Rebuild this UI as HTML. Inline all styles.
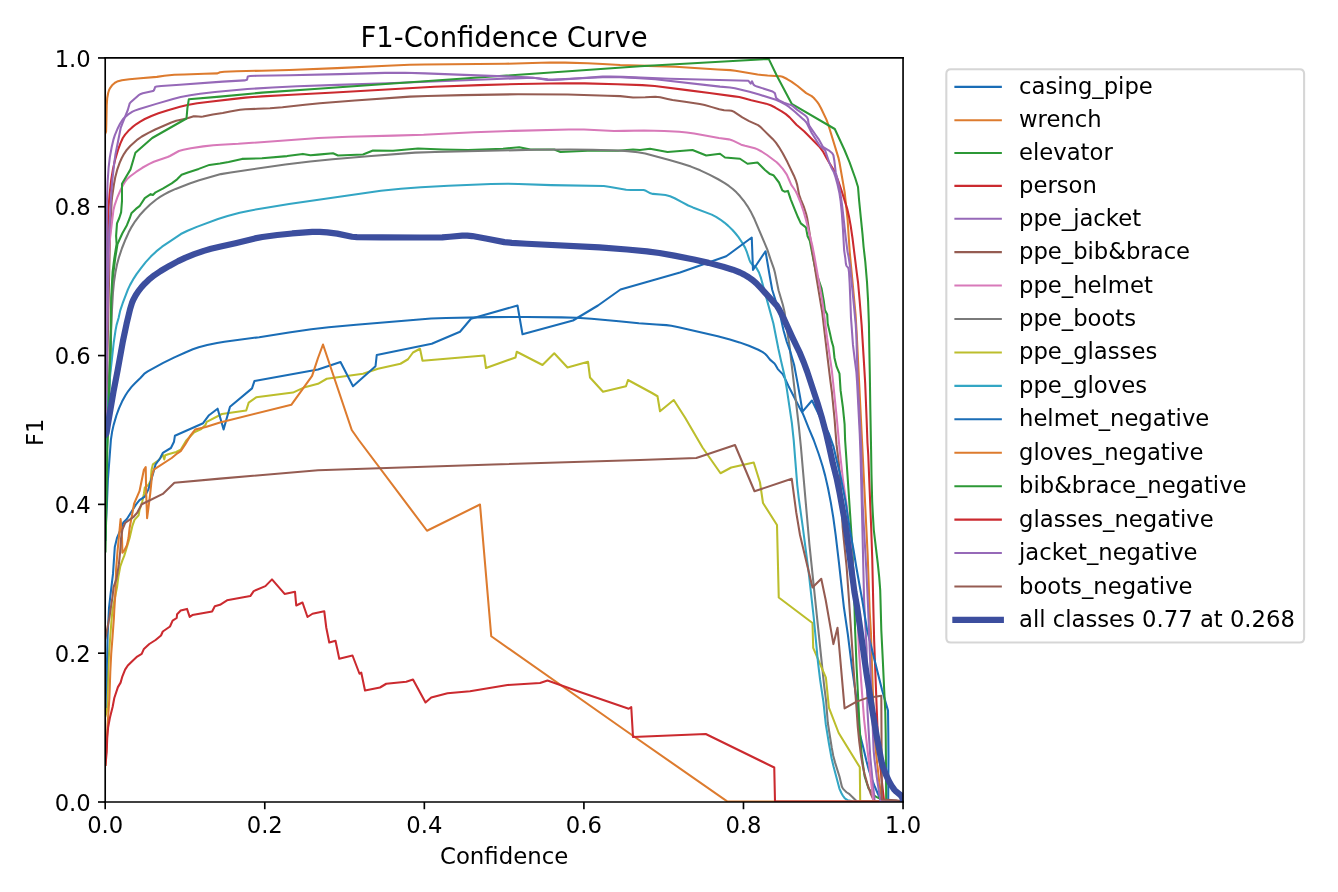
<!DOCTYPE html>
<html lang="en"><head><meta charset="utf-8"><title>F1-Confidence Curve</title>
<style>html,body{margin:0;padding:0;background:#fff;}svg{display:block;will-change:transform;}text{font-family:"DejaVu Sans","Liberation Sans",sans-serif;}</style></head>
<body>
<svg width="1338" height="892" viewBox="0 0 648 432">
 
 <defs>
  <style type="text/css">*{stroke-linejoin: round; stroke-linecap: butt}</style>
 </defs>
 <g id="figure_1">
  <g id="patch_1">
   <path d="M 0 432 
L 648 432 
L 648 0 
L 0 0 
z
" style="fill: #ffffff"/>
  </g>
  <g id="axes_1">
   <g id="patch_2">
    <path d="M 50.948879 388.412556 
L 437.35157 388.412556 
L 437.35157 28.060628 
L 50.948879 28.060628 
z
" style="fill: #ffffff"/>
   </g>
   <g id="matplotlib.axis_1">
    <g id="xtick_1">
     <g id="line2d_1">
      
      <g>
       <path d="M 50.9489 388.4126 L 50.9489 391.9126" style="stroke: #000000; stroke-width: 0.8; fill: none"/>
      </g>
     </g>
     <g id="text_1">
      <text style="font-size: 11px; font-family: 'DejaVu Sans', 'Liberation Sans', sans-serif; text-anchor: middle" x="50.948879" y="403.470837" transform="rotate(-0 50.948879 403.470837)">0.0</text>
     </g>
    </g>
    <g id="xtick_2">
     <g id="line2d_2">
      <g>
       <path d="M 128.2294 388.4126 L 128.2294 391.9126" style="stroke: #000000; stroke-width: 0.8; fill: none"/>
      </g>
     </g>
     <g id="text_2">
      <text style="font-size: 11px; font-family: 'DejaVu Sans', 'Liberation Sans', sans-serif; text-anchor: middle" x="128.229417" y="403.470837" transform="rotate(-0 128.229417 403.470837)">0.2</text>
     </g>
    </g>
    <g id="xtick_3">
     <g id="line2d_3">
      <g>
       <path d="M 205.5100 388.4126 L 205.5100 391.9126" style="stroke: #000000; stroke-width: 0.8; fill: none"/>
      </g>
     </g>
     <g id="text_3">
      <text style="font-size: 11px; font-family: 'DejaVu Sans', 'Liberation Sans', sans-serif; text-anchor: middle" x="205.509955" y="403.470837" transform="rotate(-0 205.509955 403.470837)">0.4</text>
     </g>
    </g>
    <g id="xtick_4">
     <g id="line2d_4">
      <g>
       <path d="M 282.7905 388.4126 L 282.7905 391.9126" style="stroke: #000000; stroke-width: 0.8; fill: none"/>
      </g>
     </g>
     <g id="text_4">
      <text style="font-size: 11px; font-family: 'DejaVu Sans', 'Liberation Sans', sans-serif; text-anchor: middle" x="282.790493" y="403.470837" transform="rotate(-0 282.790493 403.470837)">0.6</text>
     </g>
    </g>
    <g id="xtick_5">
     <g id="line2d_5">
      <g>
       <path d="M 360.0710 388.4126 L 360.0710 391.9126" style="stroke: #000000; stroke-width: 0.8; fill: none"/>
      </g>
     </g>
     <g id="text_5">
      <text style="font-size: 11px; font-family: 'DejaVu Sans', 'Liberation Sans', sans-serif; text-anchor: middle" x="360.071031" y="403.470837" transform="rotate(-0 360.071031 403.470837)">0.8</text>
     </g>
    </g>
    <g id="xtick_6">
     <g id="line2d_6">
      <g>
       <path d="M 437.3516 388.4126 L 437.3516 391.9126" style="stroke: #000000; stroke-width: 0.8; fill: none"/>
      </g>
     </g>
     <g id="text_6">
      <text style="font-size: 11px; font-family: 'DejaVu Sans', 'Liberation Sans', sans-serif; text-anchor: middle" x="437.35157" y="403.470837" transform="rotate(-0 437.35157 403.470837)">1.0</text>
     </g>
    </g>
    <g id="text_7">
     <text style="font-size: 11.06px; font-family: 'DejaVu Sans', 'Liberation Sans', sans-serif; text-anchor: middle" x="244.150224" y="418.662365" transform="rotate(-0 244.150224 418.662365)">Confidence</text>
    </g>
   </g>
   <g id="matplotlib.axis_2">
    <g id="ytick_1">
     <g id="line2d_7">
      
      <g>
       <path d="M 50.9489 388.4126 L 47.4489 388.4126" style="stroke: #000000; stroke-width: 0.8; fill: none"/>
      </g>
     </g>
     <g id="text_8">
      <text style="font-size: 11px; font-family: 'DejaVu Sans', 'Liberation Sans', sans-serif; text-anchor: end" x="43.948879" y="392.591697" transform="rotate(-0 43.948879 392.591697)">0.0</text>
     </g>
    </g>
    <g id="ytick_2">
     <g id="line2d_8">
      <g>
       <path d="M 50.9489 316.3422 L 47.4489 316.3422" style="stroke: #000000; stroke-width: 0.8; fill: none"/>
      </g>
     </g>
     <g id="text_9">
      <text style="font-size: 11px; font-family: 'DejaVu Sans', 'Liberation Sans', sans-serif; text-anchor: end" x="43.948879" y="320.521311" transform="rotate(-0 43.948879 320.521311)">0.2</text>
     </g>
    </g>
    <g id="ytick_3">
     <g id="line2d_9">
      <g>
       <path d="M 50.9489 244.2718 L 47.4489 244.2718" style="stroke: #000000; stroke-width: 0.8; fill: none"/>
      </g>
     </g>
     <g id="text_10">
      <text style="font-size: 11px; font-family: 'DejaVu Sans', 'Liberation Sans', sans-serif; text-anchor: end" x="43.948879" y="248.450925" transform="rotate(-0 43.948879 248.450925)">0.4</text>
     </g>
    </g>
    <g id="ytick_4">
     <g id="line2d_10">
      <g>
       <path d="M 50.9489 172.2014 L 47.4489 172.2014" style="stroke: #000000; stroke-width: 0.8; fill: none"/>
      </g>
     </g>
     <g id="text_11">
      <text style="font-size: 11px; font-family: 'DejaVu Sans', 'Liberation Sans', sans-serif; text-anchor: end" x="43.948879" y="176.38054" transform="rotate(-0 43.948879 176.38054)">0.6</text>
     </g>
    </g>
    <g id="ytick_5">
     <g id="line2d_11">
      <g>
       <path d="M 50.9489 100.1310 L 47.4489 100.1310" style="stroke: #000000; stroke-width: 0.8; fill: none"/>
      </g>
     </g>
     <g id="text_12">
      <text style="font-size: 11px; font-family: 'DejaVu Sans', 'Liberation Sans', sans-serif; text-anchor: end" x="43.948879" y="104.310154" transform="rotate(-0 43.948879 104.310154)">0.8</text>
     </g>
    </g>
    <g id="ytick_6">
     <g id="line2d_12">
      <g>
       <path d="M 50.9489 28.0606 L 47.4489 28.0606" style="stroke: #000000; stroke-width: 0.8; fill: none"/>
      </g>
     </g>
     <g id="text_13">
      <text style="font-size: 11px; font-family: 'DejaVu Sans', 'Liberation Sans', sans-serif; text-anchor: end" x="43.948879" y="32.239768" transform="rotate(-0 43.948879 32.239768)">1.0</text>
     </g>
    </g>
    <g id="text_14">
     <text style="font-size: 11px; font-family: 'DejaVu Sans', 'Liberation Sans', sans-serif; text-anchor: middle" x="21.067785" y="209.389718" transform="rotate(-90 21.067785 209.389718)">F1</text>
    </g>
   </g>
   <g id="line2d_13">
    <path d="M 51.09417 261.524664 
L 51.325053 253.03019 
L 51.80944 243.333222 
L 52.004446 238.482652 
L 52.249068 232.42003 
L 53.702406 213.053114 
L 54.290583 209.12287 
L 55.003405 205.892887 
L 56.366808 201.231982 
L 57.625446 197.808146 
L 59.103734 194.480481 
L 60.854794 191.292048 
L 62.207913 189.266308 
L 63.698902 187.353177 
L 65.366227 185.60332 
L 67.99697 183.066686 
L 70.127354 180.791031 
L 71.541465 179.827326 
L 79.035533 175.753689 
L 84.474561 173.061548 
L 90.02145 170.584044 
L 93.393029 169.175959 
L 96.23139 168.199103 
L 100.344607 167.089022 
L 105.107941 166.073114 
L 108.696441 165.510575 
L 125.54618 163.286958 
L 139.934953 161.014502 
L 150.753388 159.487692 
L 159.191641 158.532488 
L 172.487294 157.287164 
L 208.783578 154.223892 
L 216.053611 153.975076 
L 237.897092 153.598212 
L 254.893386 153.532453 
L 271.88741 153.71182 
L 279.16165 153.909055 
L 286.430107 154.406934 
L 299.72892 155.616234 
L 309.395116 156.543749 
L 317.87205 157.153009 
L 322.710221 157.461247 
L 325.103538 157.801369 
L 328.67424 158.539054 
L 338.167938 160.676406 
L 347.645363 162.830846 
L 353.499508 164.389074 
L 358.150934 165.825172 
L 362.712104 167.482663 
L 367.260563 169.39745 
L 369.395777 170.55311 
L 370.493274 171.32287 
L 371.198041 172.019821 
L 372.914798 174.156054 
L 375.09417 176.044843 
L 375.370482 176.427091 
L 376.692377 178.756951 
L 379.047778 181.194706 
L 380.159733 183.339297 
L 381.730747 186.654319 
L 387.239477 197.469934 
L 388.654709 199.969507 
L 389.437725 201.780822 
L 391.697016 207.422753 
L 394.078924 213.09417 
L 396.511673 219.87644 
L 398.360571 225.669515 
L 399.625736 230.344755 
L 400.977397 236.252021 
L 402.373075 243.413443 
L 403.554863 250.598181 
L 404.709248 259.016704 
L 406.272205 272.278377 
L 408.690451 293.990325 
L 410.612127 307.202696 
L 412.550766 322.861565 
L 415.14723 340.884681 
L 415.652173 345.711597 
L 416.373402 355.387938 
L 417.904204 361.265817 
L 419.571519 368.356839 
L 420.818916 373.051503 
L 421.938615 376.510089 
L 423.68973 381.041659 
L 426.666946 387.819573 
L 427.156951 388.218834 
L 437.35157 388.218834 
L 437.35157 388.218834 
" clip-path="url(#p59e34a2f71)" style="fill: none; stroke: #1a6db6; stroke-linecap: square"/>
   </g>
   <g id="line2d_14">
    <path d="M 51.09417 64.412556 
L 51.384753 63.686099 
L 51.499581 59.673673 
L 51.690357 51.105764 
L 51.934546 47.47886 
L 52.383726 45.0665 
L 52.789238 43.732735 
L 53.215567 42.810171 
L 54.096861 41.553363 
L 54.711101 40.880754 
L 55.670377 40.059797 
L 56.705082 39.52679 
L 59.026463 38.900062 
L 62.676278 38.348834 
L 67.996413 37.872646 
L 75.988415 37.228334 
L 79.590014 36.671575 
L 84.427994 36.198908 
L 89.280858 36.040268 
L 98.992916 35.744615 
L 105.336323 35.547982 
L 106.547085 35.015247 
L 108.57453 34.786945 
L 114.640352 34.499155 
L 126.787314 34.238331 
L 140.142534 33.938412 
L 163.198395 32.984976 
L 187.463125 31.83669 
L 198.381839 31.319594 
L 205.664688 31.212777 
L 244.527178 30.875115 
L 257.882402 30.52498 
L 266.379912 30.276713 
L 273.665191 30.329836 
L 284.592685 30.658478 
L 291.869216 31.014426 
L 300.355508 31.521236 
L 313.709165 31.916832 
L 327.058129 32.325577 
L 347.674901 33.618514 
L 353.72706 33.964953 
L 356.12788 34.274136 
L 366.918804 36.079143 
L 371.749626 36.602277 
L 375.41528 36.794683 
L 377.95157 36.952466 
L 378.969146 37.187415 
L 381.193914 38.28022 
L 383.285833 39.498574 
L 386.25136 41.639971 
L 390.446637 45.088789 
L 393.118247 46.561255 
L 394.041854 47.361228 
L 395.680669 49.196155 
L 396.367845 50.165544 
L 397.566983 52.284602 
L 400.193793 57.787799 
L 401.046164 60.053482 
L 406.037875 76.31369 
L 406.564966 78.679136 
L 409.072782 93.032723 
L 410.488488 106.318481 
L 411.044702 114.802132 
L 411.525093 122.071672 
L 414.354979 152.302431 
L 414.929044 161.999092 
L 420.217906 268.742394 
L 421.213073 296.655302 
L 421.786311 306.354073 
L 422.295532 322.134302 
L 423.029112 343.985027 
L 423.692995 357.328629 
L 424.14168 363.379622 
L 425.835147 379.077116 
L 427.292471 388.218834 
L 437.35157 388.218834 
L 437.35157 388.218834 
" clip-path="url(#p59e34a2f71)" style="fill: none; stroke: #dd7b2e; stroke-linecap: square"/>
   </g>
   <g id="line2d_15">
    <path d="M 51.09417 227.623318 
L 52.304933 209.704036 
L 53.176682 183.067265 
L 53.612556 170.475336 
L 53.854709 157.399103 
L 54.096861 144.32287 
L 54.726457 133.668161 
L 55.791928 125.144395 
L 56.90583 118.170404 
L 59.278924 112.93991 
L 61.458296 109.065471 
L 62.86278 105.578475 
L 63.637668 103.302242 
L 65.81704 101.1713 
L 67.560538 99.863677 
L 70.127354 95.940807 
L 72.984753 94.003587 
L 74.050224 94.439462 
L 75.357848 93.131839 
L 78.844843 91.388341 
L 83.155157 88.773094 
L 85.770404 86.835874 
L 87.949776 84.656502 
L 91.000897 83.542601 
L 96.23139 81.799103 
L 101.413453 79.861883 
L 106.547085 79.232287 
L 110.712108 78.408969 
L 117.201794 76.956054 
L 126.887892 76.61704 
L 139.043946 75.6 
L 146.695964 74.534529 
L 150.376682 75.164126 
L 154.008969 74.873543 
L 161.273543 74.219731 
L 163.695067 75.309417 
L 175.802691 74.825112 
L 180.64574 72.887892 
L 190.331839 73.008969 
L 202.439462 71.919283 
L 214.547085 72.403587 
L 226.654709 72.64574 
L 243.605381 72.040359 
L 251.475336 71.313901 
L 256.923767 72.403587 
L 268.426009 72.403587 
L 271.452915 73.61435 
L 287.192825 72.887892 
L 299.300448 73.008969 
L 306.565022 72.403587 
L 309.955157 72.64574 
L 314.798206 72.040359 
L 323.273543 73.61435 
L 335.381166 72.64574 
L 342.040359 75.309417 
L 348.699552 74.461883 
L 351.121076 76.278027 
L 358.38565 76.883408 
L 362.017937 79.304933 
L 366.860987 78.699552 
L 370.493274 82.331839 
L 372.914798 84.317489 
L 374.561435 84.850224 
L 377.273543 88.38565 
L 378.871749 92.211659 
L 379.98565 92.841256 
L 381.583857 92.453812 
L 382.93991 96.521973 
L 384.87713 101.413453 
L 386.475336 105.239462 
L 387.83139 108.193722 
L 390.301345 110.130942 
L 391.124664 114.441256 
L 392.190135 116.620628 
L 392.7713 119.623318 
L 393.836771 125.192825 
L 395.192825 131.730942 
L 397.904933 139.818834 
L 398.970404 145.824215 
L 399.503139 150.134529 
L 400.61704 152.313901 
L 400.859193 156.672646 
L 401.973094 161.564126 
L 402.796413 165.341704 
L 403.5713 167.90852 
L 404.152466 173.332735 
L 405.217937 177.69148 
L 406.573991 180.936323 
L 407.106726 189.072646 
L 408.220628 197.257399 
L 409.043946 205.393722 
L 409.286099 213.09417 
L 410.44843 230.044843 
L 411.659193 248.206278 
L 412.869955 266.367713 
L 413.741704 290.58296 
L 414.129148 305.063677 
L 414.855605 323.176682 
L 415.582063 337.657399 
L 416.30852 352.573991 
L 417.373991 366.134529 
L 418.730045 375.917489 
L 420.667265 381.92287 
L 423.912108 385.700448 
L 426.09148 386.81435 
L 428.125561 388.218834 
L 437.35157 388.218834 
" clip-path="url(#p59e34a2f71)" style="fill: none; stroke: #2c9836; stroke-linecap: square"/>
   </g>
   <g id="line2d_16">
    <path d="M 51.09417 203.408072 
L 52.270253 108.804099 
L 52.523665 101.531541 
L 53.039587 94.272731 
L 53.870524 87.040565 
L 54.646388 82.253354 
L 55.719651 77.521562 
L 57.080955 72.863423 
L 58.308922 69.43452 
L 59.472646 66.834081 
L 60.58681 65.16841 
L 62.179221 63.350568 
L 63.97148 61.692672 
L 65.885365 60.19803 
L 67.910531 58.865597 
L 70.127354 57.632287 
L 73.339305 56.152855 
L 76.737673 54.86495 
L 81.358545 53.362908 
L 87.200213 51.723782 
L 90.742913 50.88352 
L 95.514032 50.038121 
L 101.529234 49.235818 
L 112.377269 47.994971 
L 118.8 47.268161 
L 126.866168 46.676531 
L 141.401629 45.877608 
L 161.994962 44.827327 
L 210.430758 42.018234 
L 232.249809 41.216096 
L 251.649247 40.665911 
L 273.480146 40.320975 
L 283.182838 40.393818 
L 298.947344 40.792716 
L 311.076607 41.240371 
L 317.115957 41.659951 
L 332.762215 43.647874 
L 343.591247 45.020116 
L 355.611126 46.678213 
L 358.01061 46.996601 
L 360.353396 47.602259 
L 363.864264 48.594302 
L 370.982122 50.198083 
L 373.237363 50.992439 
L 375.422195 52.079432 
L 378.574939 53.921449 
L 380.600534 55.287752 
L 382.424256 56.846415 
L 385.730299 60.40633 
L 389.423551 63.554616 
L 397.083477 71.334759 
L 398.514784 73.282418 
L 400.268059 76.475742 
L 401.468017 78.589537 
L 403.861883 82.4287 
L 404.499649 83.819551 
L 406.041256 87.852915 
L 407.401966 91.809751 
L 410.312931 101.068962 
L 411.122472 104.613715 
L 412.00079 109.387023 
L 412.874218 115.38947 
L 414.959704 132.242526 
L 415.584488 137.051987 
L 416.356951 145.824215 
L 417.306599 157.599753 
L 418.281363 173.338177 
L 419.004354 185.445738 
L 419.682772 202.413761 
L 420.127327 214.534079 
L 420.512458 220.585916 
L 421.042126 233.918015 
L 421.922041 255.734758 
L 422.42554 270.280715 
L 422.972773 294.534045 
L 423.363352 310.296678 
L 424.545275 341.811825 
L 425.212362 358.778165 
L 426.016315 368.44821 
L 427.578944 382.919904 
L 428.003883 386.570662 
L 428.125561 388.218834 
L 437.35157 388.218834 
L 437.35157 388.218834 
" clip-path="url(#p59e34a2f71)" style="fill: none; stroke: #cb2a2f; stroke-linecap: square"/>
   </g>
   <g id="line2d_17">
    <path d="M 51.09417 213.09417 
L 51.481997 183.984413 
L 51.675336 143.955427 
L 51.782738 97.861142 
L 52.114191 88.162496 
L 52.626907 80.901882 
L 53.203582 76.086616 
L 54.096861 71.192825 
L 54.896088 67.760748 
L 55.625778 65.455813 
L 57.049249 62.098422 
L 58.129508 59.904412 
L 59.425342 57.87856 
L 60.237532 56.97357 
L 62.091145 55.404991 
L 64.159068 54.092165 
L 65.241335 53.582427 
L 67.516285 52.787005 
L 75.665213 50.307071 
L 83.814211 47.899079 
L 87.513901 46.977578 
L 92.103534 46.102586 
L 96.904347 45.388141 
L 104.140094 44.600073 
L 119.842276 43.144991 
L 131.946724 42.343891 
L 144.062824 41.775997 
L 163.460229 41.116741 
L 187.707484 40.331036 
L 258.004893 37.625517 
L 260.42011 37.86358 
L 265.248627 38.453573 
L 267.66746 38.496172 
L 273.725656 38.286035 
L 294.457399 37.29148 
L 300.392901 37.390688 
L 307.669803 37.726366 
L 317.34685 38.402908 
L 348.687377 41.963436 
L 353.542601 42.376682 
L 355.905067 42.786311 
L 362.99205 44.474491 
L 367.660316 45.79395 
L 375.768452 48.297941 
L 377.98856 49.296781 
L 380.712108 50.803587 
L 382.146608 51.782491 
L 384.956172 54.101628 
L 388.56931 57.387213 
L 389.499772 58.190064 
L 390.446637 59.230493 
L 390.952238 60.033497 
L 393.129762 64.406318 
L 396.984753 70.611659 
L 399.503139 72.64574 
L 399.665634 72.945036 
L 400.422166 75.280277 
L 401.616209 78.736487 
L 402.558772 80.964917 
L 403.861883 83.49417 
L 404.526154 85.380668 
L 405.50852 88.918386 
L 406.562058 93.637051 
L 407.100817 97.230123 
L 407.702973 103.268677 
L 408.220628 110.663677 
L 408.836988 121.419269 
L 409.392939 125.034225 
L 409.639284 127.489464 
L 409.881468 128.606682 
L 410.700251 129.581569 
L 410.932735 130.035874 
L 411.174748 131.807226 
L 411.475636 136.751338 
L 411.822985 145.235375 
L 412.129267 153.719635 
L 413.099194 167.027536 
L 413.974931 174.25462 
L 414.749134 180.270442 
L 415.088245 185.106628 
L 416.39043 210.550148 
L 416.789667 221.458721 
L 417.351506 243.286753 
L 418.487892 290.58296 
L 418.972197 300.365919 
L 419.682153 313.592427 
L 419.892743 329.362334 
L 420.106504 343.913496 
L 420.960923 358.446619 
L 421.509511 366.918921 
L 422.684339 378.99319 
L 423.635888 388.218834 
L 437.35157 388.218834 
L 437.35157 388.218834 
" clip-path="url(#p59e34a2f71)" style="fill: none; stroke: #9669b8; stroke-linecap: square"/>
   </g>
   <g id="line2d_18">
    <path d="M 51.09417 213.09417 
L 51.781465 183.975069 
L 53.247976 114.814163 
L 54.053262 97.840539 
L 54.278952 95.427601 
L 55.167822 89.42033 
L 55.818731 85.838927 
L 56.740014 82.312478 
L 57.933631 78.870577 
L 58.918462 76.656388 
L 60.087167 74.512962 
L 61.458296 72.500448 
L 63.07791 70.729541 
L 66.711778 67.472702 
L 68.692558 66.09658 
L 71.892799 64.334646 
L 75.163271 62.741358 
L 82.966211 59.335912 
L 85.334529 58.504036 
L 88.785553 57.698933 
L 91.149232 57.117607 
L 93.480604 56.373065 
L 94.672004 56.341616 
L 97.490583 56.518386 
L 98.303482 56.465311 
L 100.67622 55.924133 
L 103.058333 55.406926 
L 107.866826 54.77038 
L 111.430867 54.015701 
L 116.226503 53.197514 
L 118.8 52.934529 
L 124.695071 52.710216 
L 130.759411 52.464392 
L 136.80176 51.957706 
L 147.662507 50.728126 
L 154.909581 49.99863 
L 171.847085 48.649346 
L 198.485055 46.788212 
L 206.970741 46.463477 
L 223.958668 46.060101 
L 250.869955 45.64574 
L 274.925902 45.73519 
L 294.338525 46.373911 
L 300.397378 46.565836 
L 306.565022 47.219731 
L 312.503641 47.117342 
L 317.345961 46.857217 
L 319.740104 47.10129 
L 323.311774 47.920077 
L 325.697635 48.430924 
L 331.704768 49.315945 
L 338.909093 50.375307 
L 341.28809 50.837975 
L 344.817862 51.88095 
L 348.338186 52.947861 
L 350.70324 53.410249 
L 353.113463 53.515695 
L 354.262811 53.612836 
L 355.34234 54.07986 
L 359.523528 56.844902 
L 362.792825 58.649327 
L 367.131446 60.604323 
L 368.081343 61.308326 
L 369.838799 63.016732 
L 372.468105 65.572757 
L 374.205784 67.277121 
L 375.775178 69.104633 
L 377.179513 71.092247 
L 379.073204 74.203278 
L 381.337435 78.500064 
L 384.501657 85.08996 
L 385.438074 87.331701 
L 386.114094 89.633276 
L 387.02592 94.409138 
L 387.861944 96.675298 
L 389.26797 100.048569 
L 390.398068 103.518403 
L 390.963642 105.869625 
L 391.729752 110.666347 
L 394.318338 127.457933 
L 395.247718 133.453429 
L 398.220944 151.410253 
L 400.771424 173.107239 
L 402.09626 183.949066 
L 402.897154 189.963386 
L 404.209195 203.24965 
L 404.661769 209.300779 
L 405.140838 215.348354 
L 406.178939 223.78589 
L 406.799855 229.818921 
L 407.215316 237.084667 
L 408.09972 255.270676 
L 408.672441 261.309978 
L 410.021608 274.594006 
L 411.174888 290.58296 
L 412.456277 309.70552 
L 413.411866 324.237189 
L 414.763493 342.39176 
L 415.42405 352.077474 
L 416.147268 359.324984 
L 417.08834 366.551074 
L 417.955157 371.607175 
L 418.694441 374.884893 
L 420.086099 379.743498 
L 421.599341 384.182471 
L 422.798206 386.81435 
L 423.166304 387.569046 
L 423.766816 388.218834 
L 437.35157 388.218834 
L 437.35157 388.218834 
" clip-path="url(#p59e34a2f71)" style="fill: none; stroke: #955c52; stroke-linecap: square"/>
   </g>
   <g id="line2d_19">
    <path d="M 51.09417 198.565022 
L 51.728909 162.135656 
L 52.610665 125.711975 
L 52.99506 118.43544 
L 53.493508 113.603233 
L 54.970411 101.549445 
L 55.582108 99.200849 
L 56.769935 95.753517 
L 58.193473 92.397385 
L 59.714798 89.402691 
L 60.502317 88.109847 
L 61.458296 86.835874 
L 62.925679 85.461623 
L 65.899655 83.289489 
L 68.926516 81.25325 
L 72.103622 79.473388 
L 74.486099 78.360538 
L 76.574077 77.587506 
L 81.190378 76.039346 
L 82.29441 75.556307 
L 86.642152 73.130045 
L 88.824172 72.520525 
L 92.41484 71.781841 
L 98.45215 70.885165 
L 103.283459 70.318095 
L 106.916715 70.061921 
L 115.406361 69.651932 
L 154.169337 66.826672 
L 168.732014 66.272754 
L 190.58685 65.69088 
L 205.153655 65.278738 
L 217.282495 64.645006 
L 229.413422 64.058051 
L 248.833876 63.378343 
L 275.547329 62.739865 
L 282.831012 62.761522 
L 290.112401 63.108714 
L 297.394035 63.424232 
L 302.249921 63.398541 
L 311.964093 63.215074 
L 321.681913 63.457144 
L 328.962014 63.822083 
L 332.57695 64.124624 
L 336.172013 64.674199 
L 348.156014 66.83836 
L 352.975178 67.490449 
L 354.123521 67.770204 
L 355.23422 68.227318 
L 358.966816 70.078924 
L 360.832239 70.615804 
L 365.558648 71.800767 
L 366.679682 72.231239 
L 368.833911 73.371455 
L 371.461883 75.067265 
L 376.159641 78.602691 
L 377.51697 79.951533 
L 379.131734 81.814157 
L 380.55701 83.799593 
L 381.171086 84.821725 
L 382.151197 87.039557 
L 383.230493 89.499552 
L 384.462567 91.30639 
L 385.409865 92.744395 
L 386.248262 94.453757 
L 387.620452 97.847736 
L 389.185746 102.445867 
L 390.518087 107.120111 
L 393.392752 118.921929 
L 394.338252 123.68538 
L 398.14757 145.213208 
L 398.999617 151.224307 
L 400.497283 163.276715 
L 402.79511 178.896987 
L 403.574388 186.141438 
L 405.199533 201.846449 
L 405.752545 207.89292 
L 406.614981 217.570477 
L 408.269058 232.466368 
L 410.12283 245.270783 
L 411.495546 258.565217 
L 415.161534 294.818944 
L 415.406313 299.666895 
L 415.938587 314.229541 
L 417.518468 336.035092 
L 418.487892 348.50583 
L 421.295001 373.487538 
L 422.117434 380.729277 
L 422.798206 386.81435 
L 423.040359 388.218834 
L 437.35157 388.218834 
L 437.35157 388.218834 
" clip-path="url(#p59e34a2f71)" style="fill: none; stroke: #d879b9; stroke-linecap: square"/>
   </g>
   <g id="line2d_20">
    <path d="M 51.09417 232.466368 
L 51.863259 207.001634 
L 53.032875 176.695043 
L 54.016686 153.665237 
L 54.719548 141.554065 
L 55.18211 136.724793 
L 55.908268 131.925512 
L 56.663677 128.147085 
L 57.541346 124.835357 
L 59.063352 120.2286 
L 60.883 115.727174 
L 62.382487 112.401698 
L 63.506179 110.262137 
L 65.44818 107.174297 
L 67.630468 104.267017 
L 70.075045 101.56741 
L 72.71739 99.064681 
L 75.538934 96.753055 
L 77.521042 95.366526 
L 79.597515 94.096174 
L 81.739536 92.970258 
L 85.070622 91.499952 
L 91.858521 88.85481 
L 96.465737 87.341787 
L 106.959458 84.32569 
L 111.742411 83.506546 
L 138.15025 79.637524 
L 150.196099 78.182533 
L 161.059067 77.105751 
L 178.224215 75.672646 
L 200.969868 73.917641 
L 210.665652 73.606017 
L 259.183263 72.528501 
L 276.167036 72.404741 
L 287.091286 72.534634 
L 299.300448 72.887892 
L 304.065904 73.185758 
L 308.900072 73.727977 
L 312.464559 74.322386 
L 318.319125 75.947726 
L 324.194018 77.461452 
L 330.036736 79.14028 
L 334.622957 80.680716 
L 339.129753 82.490852 
L 343.544899 84.549403 
L 347.826075 86.811308 
L 350.989912 88.688617 
L 353.00702 90.054676 
L 354.888844 91.527159 
L 356.654057 93.162996 
L 358.326674 94.956633 
L 360.617018 97.812332 
L 361.984632 99.79765 
L 363.830878 102.956953 
L 365.424627 106.214548 
L 371.584653 120.747495 
L 372.340456 123.049772 
L 373.487976 126.508117 
L 374.740636 129.932009 
L 375.355342 132.264218 
L 377.047172 140.586401 
L 379.135827 147.568412 
L 379.98565 151.24843 
L 380.472594 154.70655 
L 381.269271 160.72515 
L 382.257503 166.708522 
L 386.882429 206.474086 
L 387.854663 216.129423 
L 391.962571 263.263795 
L 396.00024 301.8738 
L 397.869917 319.975189 
L 399.129531 332.040639 
L 400.056725 339.259604 
L 400.921795 350.13705 
L 402.817116 362.135461 
L 403.5713 366.134529 
L 404.397974 369.215241 
L 406.591718 376.170262 
L 407.714527 380.930296 
L 408.236218 381.947449 
L 409.770404 383.521076 
L 409.983358 383.690507 
L 411.41704 384.634978 
L 412.805392 385.96179 
L 415.049327 388.218834 
L 437.35157 388.218834 
L 437.35157 388.218834 
" clip-path="url(#p59e34a2f71)" style="fill: none; stroke: #7a7a7a; stroke-linecap: square"/>
   </g>
   <g id="line2d_21">
    <path d="M 51.09417 346.762332 
L 51.675336 344.58296 
L 52.111211 338.044843 
L 52.353363 325.356054 
L 52.789238 316.686996 
L 53.418834 308.017937 
L 54.096861 299.300448 
L 54.532735 295.280717 
L 55.356054 290.970404 
L 56.663677 284.432287 
L 57.341704 279.250224 
L 58.213453 274.455605 
L 59.278924 271.404484 
L 60.150673 269.225112 
L 61.458296 264.914798 
L 62.765919 260.556054 
L 64.073543 254.841256 
L 65.139013 251.790135 
L 67.124664 249.610762 
L 67.560538 246.995516 
L 68.868161 243.121076 
L 69.69148 239.198206 
L 70.127354 236.147085 
L 71.870852 234.839462 
L 72.984753 232.66009 
L 73.420628 227.478027 
L 74.050224 224.86278 
L 77.101345 222.683408 
L 78.747982 220.068161 
L 79.5713 222.489686 
L 80.007175 220.504036 
L 81.46009 219.9713 
L 85.334529 218.90583 
L 87.513901 217.791928 
L 90.129148 213.481614 
L 94.052018 209.365022 
L 97.490583 207.815247 
L 99.476233 205.878027 
L 100.10583 204.328251 
L 106.547085 200.986547 
L 107.467265 200.502242 
L 119.235874 198.807175 
L 120.446637 194.981166 
L 124.078924 192.41435 
L 141.852915 190.138117 
L 147.131839 187.716592 
L 154.008969 185.876233 
L 158.246637 183.430493 
L 175.802691 181.008969 
L 183.067265 178.587444 
L 193.964126 176.165919 
L 197.596413 173.986547 
L 200.017937 170.717489 
L 203.408072 168.901345 
L 204.618834 174.713004 
L 234.524664 172.170404 
L 235.372197 178.224215 
L 249.659193 173.139013 
L 250.264574 170.35426 
L 262.735426 176.7713 
L 268.426009 171.080717 
L 274.843049 177.982063 
L 284.7713 175.197309 
L 285.73991 182.825112 
L 292.035874 189.726457 
L 303.174888 187.06278 
L 304.143498 184.035874 
L 315.766816 190.331839 
L 318.430493 191.90583 
L 319.641256 199.170404 
L 326.300448 193.721973 
L 331.748879 202.197309 
L 340.224215 216.726457 
L 348.941704 229.197309 
L 354.147982 226.412556 
L 365.044843 223.991031 
L 368.071749 233.67713 
L 369.524664 243.605381 
L 376.304933 254.26009 
L 377.152466 289.372197 
L 393.497758 301.721973 
L 393.836771 313.732735 
L 399.987444 328.213453 
L 401.440359 342.69417 
L 406.186547 354.995516 
L 416.405381 371.607175 
L 416.599103 388.218834 
L 437.35157 388.218834 
" clip-path="url(#p59e34a2f71)" style="fill: none; stroke: #bcbe2c; stroke-linecap: square"/>
   </g>
   <g id="line2d_22">
    <path d="M 51.09417 217.93722 
L 51.647744 205.802749 
L 52.467688 192.468521 
L 53.365925 181.57423 
L 55.080644 165.877377 
L 55.971359 159.863172 
L 56.469955 157.350673 
L 57.427137 153.98114 
L 58.214018 150.425352 
L 59.376225 146.969458 
L 61.968562 140.151152 
L 63.004183 137.963337 
L 64.80964 134.790222 
L 66.131042 132.75523 
L 68.28808 129.81587 
L 70.578066 126.97195 
L 73.023407 124.277343 
L 75.66826 121.762267 
L 78.488792 119.467261 
L 82.511275 116.73169 
L 87.557053 113.351856 
L 90.819938 111.744409 
L 95.310843 109.870764 
L 105.573816 106.09315 
L 110.209826 104.649074 
L 116.079404 103.056176 
L 120.814536 102.014489 
L 126.789063 100.932754 
L 139.993482 98.846634 
L 184.455125 92.336895 
L 194.130771 91.4191 
L 203.823732 90.71945 
L 217.164779 89.996924 
L 237.799375 89.149212 
L 246.026906 88.991031 
L 251.152984 89.10216 
L 266.936584 89.66156 
L 292.427876 90.062238 
L 294.833084 90.397704 
L 303.238823 91.907432 
L 305.653943 92.017937 
L 311.712031 92.038559 
L 312.837632 92.415282 
L 315.052302 93.624059 
L 316.206243 93.900607 
L 319.863685 94.212305 
L 322.257364 94.470625 
L 324.536225 95.078747 
L 326.756086 96.026196 
L 330.031916 97.778064 
L 333.32071 99.507731 
L 335.567014 100.452585 
L 344.691381 103.928613 
L 346.793388 105.022132 
L 348.837055 106.319281 
L 350.821203 107.791958 
L 352.704723 109.391951 
L 354.753363 111.390135 
L 356.047808 112.837895 
L 357.562 114.756731 
L 359.627327 117.821127 
L 360.835728 119.918691 
L 361.782456 122.261036 
L 362.985642 125.964592 
L 363.473103 127.037475 
L 364.439462 128.340807 
L 365.886518 129.186386 
L 366.519421 129.985596 
L 367.579564 131.964997 
L 368.43227 134.309708 
L 369.835909 139.410277 
L 374.561435 156.672646 
L 375.341672 160.646667 
L 376.991489 168.988494 
L 378.302288 174.918243 
L 379.98565 182.050224 
L 380.992556 187.995696 
L 383.498015 204.815275 
L 384.403559 213.269278 
L 385.166096 222.958147 
L 386.130464 235.065163 
L 386.816427 241.094851 
L 388.825514 255.534987 
L 391.651946 277.213483 
L 394.078374 298.941611 
L 395.122195 309.823081 
L 396.141974 320.705601 
L 397.172107 329.146571 
L 398.252834 336.353559 
L 398.788253 339.954718 
L 399.943995 350.822278 
L 401.499468 360.417431 
L 402.747982 367.24843 
L 403.664682 371.125357 
L 406.525561 381.92287 
L 407.480003 384.069914 
L 408.147514 385.268947 
L 408.898249 386.322202 
L 409.719669 387.108973 
L 410.608896 387.525922 
L 412.957037 388.011611 
L 415.48594 388.17275 
L 437.35157 388.218834 
L 437.35157 388.218834 
" clip-path="url(#p59e34a2f71)" style="fill: none; stroke: #33a6c4; stroke-linecap: square"/>
   </g>
   <g id="line2d_23">
    <path d="M 51.09417 342.403587 
L 51.917489 316.686996 
L 52.111211 308.017937 
L 52.547085 299.300448 
L 52.789238 294.457399 
L 53.418834 288.791031 
L 54.096861 283.124664 
L 54.726457 277.942601 
L 55.162332 271.404484 
L 55.598206 264.914798 
L 56.663677 260.556054 
L 58.407175 256.536323 
L 59.714798 253.097758 
L 61.458296 251.35426 
L 63.637668 247.867265 
L 65.81704 244.380269 
L 67.560538 242.249327 
L 70.127354 240.50583 
L 71.870852 237.018834 
L 74.050224 229.608969 
L 75.357848 224.86278 
L 77.634081 221.811659 
L 78.844843 219.341704 
L 82.767713 216.96861 
L 84.269058 213.917489 
L 84.704933 211.06009 
L 98.362332 205.006278 
L 98.798206 204.328251 
L 101.219731 201.083408 
L 105.384753 197.935426 
L 108.290583 207.960538 
L 111.390135 197.015247 
L 122.044843 188.104036 
L 123.255605 184.471749 
L 154.008969 178.999103 
L 164.90583 175.318386 
L 170.959641 187.06278 
L 181.856502 177.376682 
L 182.461883 171.928251 
L 209.098655 166.479821 
L 222.780269 160.668161 
L 228.107623 154.372197 
L 250.627803 147.955157 
L 253.049327 161.878924 
L 277.506726 155.219731 
L 289.61435 147.955157 
L 300.511211 140.206278 
L 315.766816 135.847534 
L 329.327354 131.973094 
L 351.726457 124.103139 
L 364.076233 115.022422 
L 364.681614 130.762332 
L 370.735426 121.681614 
L 372.914798 134.394619 
L 373.980269 140.35157 
L 377.757848 152.313901 
L 379.452915 159.917489 
L 381.051121 165.632287 
L 382.697758 170.087892 
L 384.586547 176.626009 
L 386.233184 185.295067 
L 387.589238 192.898655 
L 388.654709 199.388341 
L 393.255605 193.964126 
L 397.130045 201.955157 
L 401.440359 209.946188 
L 403.716592 216.435874 
L 405.217937 222.973991 
L 406.961435 230.044843 
L 409.528251 243.072646 
L 411.610762 256.681614 
L 413.402691 266.464574 
L 414.710314 274.600897 
L 416.695964 285.73991 
L 417.567713 290.58296 
L 419.940807 305.063677 
L 423.524664 319.544395 
L 427.156951 334.025112 
L 430.06278 344.147085 
L 430.208072 354.995516 
L 430.304933 366.134529 
L 430.159641 388.218834 
L 437.35157 388.218834 
" clip-path="url(#p59e34a2f71)" style="fill: none; stroke: #1a6db6; stroke-linecap: square"/>
   </g>
   <g id="line2d_24">
    <path d="M 51.09417 370.493274 
L 51.578475 360.807175 
L 52.111211 351.072646 
L 52.547085 344.58296 
L 52.98296 338.044843 
L 53.418834 325.356054 
L 53.854709 316.686996 
L 54.532735 308.017937 
L 55.162332 299.300448 
L 55.356054 295.280717 
L 55.791928 288.791031 
L 56.034081 282.252915 
L 56.227803 275.763229 
L 56.90583 267.09417 
L 57.535426 260.556054 
L 58.407175 251.35426 
L 59.085202 260.556054 
L 59.278924 267.723767 
L 60.150673 266.658296 
L 61.458296 264.043049 
L 62.233184 260.556054 
L 62.765919 255.713004 
L 64.073543 248.739013 
L 64.945291 243.944395 
L 67.560538 237.890583 
L 69.69148 227.478027 
L 70.563229 226.170404 
L 70.805381 239.198206 
L 71.241256 250.918386 
L 71.870852 246.123767 
L 72.742601 239.198206 
L 73.61435 230.480717 
L 74.486099 227.478027 
L 83.155157 221.811659 
L 85.334529 219.9713 
L 87.513901 218.469955 
L 89.693274 215.225112 
L 92.30852 210.866368 
L 94.487892 208.057399 
L 99.669955 206.749776 
L 106.547085 204.570404 
L 141.078027 196.046637 
L 151.15157 182.050224 
L 154.008969 173.381166 
L 156.430493 166.843049 
L 170.35426 208.251121 
L 173.744395 213.09417 
L 206.798206 257.044843 
L 232.466368 244.331839 
L 237.914798 308.139013 
L 302.206278 353.300448 
L 352.331839 388.218834 
L 437.35157 388.218834 
" clip-path="url(#p59e34a2f71)" style="fill: none; stroke: #dd7b2e; stroke-linecap: square"/>
   </g>
   <g id="line2d_25">
    <path d="M 51.09417 267.09417 
L 51.578475 242.152466 
L 52.111211 209.994619 
L 52.98296 183.067265 
L 53.418834 170.475336 
L 53.660987 157.399103 
L 53.854709 144.32287 
L 54.532735 131.634081 
L 55.356054 125.144395 
L 56.469955 118.170404 
L 56.227803 114.247534 
L 56.663677 108.193722 
L 57.777578 105.578475 
L 58.649327 102.866368 
L 59.085202 97.24843 
L 59.085202 88.966816 
L 63.201794 82.041256 
L 65.574888 74.001794 
L 73.711211 66.834081 
L 90.32287 57.390135 
L 90.758744 52.401794 
L 91.436771 48.09148 
L 106.547085 46.783857 
L 126.887892 44.846637 
L 154.008969 42.982063 
L 309.955157 32.085202 
L 372.285202 28.525561 
L 376.353363 36.952466 
L 383.424215 50.270852 
L 404.297758 62.475336 
L 408.995516 72.64574 
L 411.465471 78.602691 
L 414.177578 86.206278 
L 415.533632 90.565022 
L 416.066368 97.054709 
L 416.889686 105.239462 
L 417.713004 113.375785 
L 418.24574 119.623318 
L 419.069058 126.791031 
L 419.892377 136.573991 
L 420.425112 145.824215 
L 420.812556 156.672646 
L 420.957848 165.632287 
L 421.24843 180.936323 
L 421.490583 197.257399 
L 421.781166 213.09417 
L 421.878027 217.93722 
L 422.071749 230.044843 
L 422.410762 243.072646 
L 422.749776 249.610762 
L 423.18565 256.681614 
L 424.15426 264.817937 
L 425.12287 272.95426 
L 425.800897 279.492377 
L 426.285202 285.73991 
L 426.430493 290.58296 
L 426.817937 305.112108 
L 427.544395 319.641256 
L 428.222422 334.170404 
L 428.755157 344.825112 
L 428.948879 354.995516 
L 429.04574 366.134529 
L 429.191031 388.218834 
L 437.35157 388.218834 
" clip-path="url(#p59e34a2f71)" style="fill: none; stroke: #2c9836; stroke-linecap: square"/>
   </g>
   <g id="line2d_26">
    <path d="M 51.09417 370.493274 
L 51.675336 364.100448 
L 51.917489 357.610762 
L 52.353363 352.380269 
L 53.225112 347.58565 
L 54.532735 342.403587 
L 55.356054 338.044843 
L 57.099552 332.765919 
L 58.407175 330.586547 
L 59.278924 327.535426 
L 60.586547 324.290583 
L 61.89417 322.304933 
L 64.509417 319.738117 
L 66.446637 317.994619 
L 68.626009 316.686996 
L 69.69148 314.265471 
L 72.306726 311.892377 
L 75.357848 309.955157 
L 77.973094 307.775785 
L 78.844843 305.838565 
L 82.331839 303.41704 
L 83.591031 300.608072 
L 85.576682 299.300448 
L 85.770404 297.46009 
L 87.513901 295.716592 
L 90.565022 294.893274 
L 91.872646 298.767713 
L 93.180269 297.895964 
L 102.721076 296.152466 
L 104.0287 293.58565 
L 106.547085 292.907623 
L 109.93722 290.728251 
L 121.221525 288.69417 
L 122.868161 286.272646 
L 128.534529 283.851121 
L 131.730942 280.606278 
L 137.833184 287.6287 
L 142.869955 286.611659 
L 143.475336 293.246637 
L 146.502242 291.793722 
L 148.923767 298.816143 
L 151.345291 297.242152 
L 157.035874 296.03139 
L 158.004484 303.901345 
L 159.457399 311.165919 
L 162.484305 310.318386 
L 164.300448 319.035874 
L 170.717489 317.461883 
L 174.107623 326.300448 
L 174.955157 325.695067 
L 176.7713 334.412556 
L 184.035874 332.959641 
L 187.06278 331.143498 
L 196.748879 330.174888 
L 200.017937 329.085202 
L 206.071749 340.224215 
L 208.856502 337.802691 
L 216.726457 335.744395 
L 227.623318 334.775785 
L 245.784753 331.748879 
L 261.524664 330.780269 
L 265.156951 329.569507 
L 280.896861 335.139013 
L 304.506726 343.251121 
L 305.717489 342.403587 
L 306.565022 356.932735 
L 341.798206 355.479821 
L 374.973094 371.704036 
L 375.336323 388.218834 
L 437.35157 388.218834 
" clip-path="url(#p59e34a2f71)" style="fill: none; stroke: #cb2a2f; stroke-linecap: square"/>
   </g>
   <g id="line2d_27">
    <path d="M 51.09417 208.251121 
L 51.649784 179.1399 
L 52.517989 122.126458 
L 52.889922 112.428705 
L 53.85273 94.255808 
L 54.43148 87.000149 
L 55.370906 78.557239 
L 55.883914 74.957043 
L 58.469972 61.878307 
L 59.333299 59.606804 
L 61.89417 53.273543 
L 62.765919 50.222422 
L 63.280021 49.518946 
L 67.012215 46.208898 
L 68.190135 45.476233 
L 69.129405 45.165598 
L 74.093355 44.09372 
L 74.486099 43.829596 
L 74.704712 43.369498 
L 75.164126 42.086099 
L 75.843204 41.896297 
L 78.112709 41.640442 
L 87.14036 41.040034 
L 107.772317 39.538361 
L 118.416238 38.938653 
L 119.623318 38.599103 
L 119.677854 38.519876 
L 120.010762 37.000897 
L 121.117544 36.84671 
L 124.361518 36.688928 
L 140.376303 36.407992 
L 164.635856 35.890222 
L 186.466609 35.282428 
L 196.168844 35.259176 
L 205.870939 35.529958 
L 255.579246 37.441882 
L 259.198259 37.797423 
L 265.212176 38.688569 
L 267.625519 38.736527 
L 272.466393 38.527681 
L 287.004091 37.436597 
L 291.846707 37.109156 
L 295.480469 37.053531 
L 301.539823 37.21852 
L 324.578072 38.144129 
L 362.502242 39.131839 
L 363.567713 40.487892 
L 363.753544 40.250805 
L 364.148879 39.373991 
L 364.287607 39.490028 
L 364.923767 41.020628 
L 365.55721 41.479717 
L 366.645571 41.936902 
L 374.173173 44.295141 
L 375.239462 45.088789 
L 375.455 45.740741 
L 375.820628 47.268161 
L 376.344228 47.903368 
L 377.381952 48.608592 
L 379.671423 49.710157 
L 383.424215 51.04574 
L 384.138759 51.515714 
L 386.136323 53.225112 
L 389.981934 55.924891 
L 390.881967 56.836209 
L 391.327474 57.866043 
L 391.560538 59.763229 
L 391.702537 60.259401 
L 392.231322 61.333406 
L 395.038675 65.372024 
L 396.452018 67.366816 
L 398.58296 71.144395 
L 398.935457 71.437736 
L 401.343498 72.791031 
L 403.057897 74.237105 
L 403.613817 75.204712 
L 404.044193 77.588231 
L 404.760483 83.617698 
L 405.717512 87.14094 
L 406.89803 93.093513 
L 407.796792 99.090992 
L 408.49564 105.116673 
L 409.540728 114.765952 
L 410.471159 121.977227 
L 410.980779 124.352093 
L 411.756054 129.503139 
L 412.306332 135.185849 
L 413.377441 146.052605 
L 414.413553 156.922131 
L 414.710314 162.096861 
L 415.375848 183.591522 
L 417.02468 216.306204 
L 417.328882 227.221069 
L 417.792939 244.198211 
L 418.315657 253.889002 
L 419.562897 275.692604 
L 420.410334 293.870442 
L 423.088789 363.2287 
L 423.510572 367.800181 
L 424.615656 376.225777 
L 426.43095 388.218834 
L 437.35157 388.218834 
L 437.35157 388.218834 
" clip-path="url(#p59e34a2f71)" style="fill: none; stroke: #9669b8; stroke-linecap: square"/>
   </g>
   <g id="line2d_28">
    <path d="M 51.09417 309.180269 
L 52.111211 303.659193 
L 53.03139 298.816143 
L 53.660987 294.457399 
L 54.532735 288.791031 
L 54.96861 284.432287 
L 56.469955 280.121973 
L 57.535426 273.583857 
L 58.213453 267.09417 
L 58.649327 260.556054 
L 59.278924 256.536323 
L 60.586547 253.29148 
L 64.509417 250.482511 
L 66.446637 248.303139 
L 68.626009 244.186547 
L 71.870852 242.636771 
L 78.844843 239.198206 
L 84.46278 233.773991 
L 106.547085 231.788341 
L 154.008969 227.76861 
L 238.762332 224.959641 
L 309.955157 222.780269 
L 337.197309 221.811659 
L 355.964126 215.515695 
L 365.408072 237.914798 
L 383.44843 231.860987 
L 385.627803 248.206278 
L 387.443946 259.103139 
L 393.497758 284.529148 
L 397.735426 280.29148 
L 399.890583 290.58296 
L 403.619731 311.940807 
L 405.605381 303.998206 
L 409.043946 343.081614 
L 414.855605 339.788341 
L 419.940807 337.996413 
L 426.817937 336.930942 
L 426.914798 354.995516 
L 427.06009 387.201794 
L 433.93722 387.540807 
L 437.35157 388.218834 
" clip-path="url(#p59e34a2f71)" style="fill: none; stroke: #955c52; stroke-linecap: square"/>
   </g>
   <g id="line2d_29">
    <path d="M 51.09417 210.430493 
L 51.481614 209.994619 
L 51.635243 209.430257 
L 52.207902 205.781216 
L 53.448587 198.599748 
L 55.081315 189.020544 
L 57.002691 179.192825 
L 59.543509 165.14116 
L 61.300679 156.82111 
L 62.999382 149.714078 
L 63.928251 146.647534 
L 64.563696 145.145441 
L 65.727805 142.991882 
L 67.045693 140.964283 
L 68.558355 139.041843 
L 70.189159 137.255366 
L 71.957497 135.575894 
L 74.789488 133.284578 
L 77.812618 131.2515 
L 82.007977 128.783214 
L 86.295148 126.470804 
L 89.644843 124.902242 
L 94.090495 123.10353 
L 98.690727 121.489273 
L 102.179296 120.463801 
L 106.909015 119.370396 
L 114.0317 117.779426 
L 123.482389 115.460812 
L 127.053874 114.802898 
L 134.268752 113.813726 
L 141.529159 113.067056 
L 151.225199 112.329309 
L 154.862332 112.274551 
L 158.500461 112.539371 
L 163.318684 113.158842 
L 170.480659 114.647261 
L 172.885183 114.799072 
L 185.027545 115.001796 
L 203.261386 115.022422 
L 214.186894 114.960158 
L 217.826417 114.642778 
L 223.881231 114.090918 
L 226.295406 114.075742 
L 228.704216 114.330704 
L 235.903822 115.617467 
L 244.262287 117.244182 
L 247.869842 117.591989 
L 255.12763 118.035227 
L 290.337673 119.823636 
L 303.662019 120.823817 
L 313.337713 121.758737 
L 319.353327 122.548096 
L 326.537525 123.806524 
L 336.076873 125.688253 
L 343.186538 127.310432 
L 350.244304 129.173319 
L 354.91262 130.623903 
L 358.38565 131.973094 
L 360.45058 132.994744 
L 362.555134 134.267961 
L 364.524946 135.670996 
L 366.32791 137.253215 
L 368.855583 139.913737 
L 376.204799 148.021188 
L 377.452262 150.093475 
L 379.655374 154.43847 
L 383.690372 163.282677 
L 385.784049 167.666652 
L 387.389215 170.934632 
L 389.248278 175.426904 
L 390.923847 179.986166 
L 395.86379 194.987046 
L 398.147085 202.681614 
L 400.150167 210.185432 
L 401.520722 216.100458 
L 403.34938 224.403893 
L 405.149774 231.464633 
L 406.604956 238.607035 
L 409.227272 252.948956 
L 410.304752 260.154042 
L 413.803089 286.647828 
L 415.088721 293.820591 
L 416.639156 304.644057 
L 419.674593 326.295368 
L 422.719458 345.491473 
L 424.545232 356.27013 
L 426.914798 368.895067 
L 427.745893 371.719494 
L 429.039546 375.15066 
L 430.565885 378.444346 
L 431.79356 380.571788 
L 433.185131 382.544506 
L 434.080354 383.408139 
L 436.083698 385.01291 
L 436.93991 386.233184 
L 437.157996 386.973699 
L 437.35157 388.218834 
L 437.35157 388.218834 
" clip-path="url(#p59e34a2f71)" style="fill: none; stroke: #3c4e9e; stroke-width: 3; stroke-linecap: square"/>
   </g>
   <g id="patch_3">
    <path d="M 50.948879 388.412556 
L 50.948879 28.060628 
" style="fill: none; stroke: #000000; stroke-width: 0.8; stroke-linejoin: miter; stroke-linecap: square"/>
   </g>
   <g id="patch_4">
    <path d="M 437.35157 388.412556 
L 437.35157 28.060628 
" style="fill: none; stroke: #000000; stroke-width: 0.8; stroke-linejoin: miter; stroke-linecap: square"/>
   </g>
   <g id="patch_5">
    <path d="M 50.948879 388.412556 
L 437.35157 388.412556 
" style="fill: none; stroke: #000000; stroke-width: 0.8; stroke-linejoin: miter; stroke-linecap: square"/>
   </g>
   <g id="patch_6">
    <path d="M 50.948879 28.060628 
L 437.35157 28.060628 
" style="fill: none; stroke: #000000; stroke-width: 0.8; stroke-linejoin: miter; stroke-linecap: square"/>
   </g>
   <g id="text_15">
    <text style="font-size: 13.3px; font-family: 'DejaVu Sans', 'Liberation Sans', sans-serif; text-anchor: middle" x="244.150224" y="22.560628" transform="rotate(-0 244.150224 22.560628)">F1-Confidence Curve</text>
   </g>
   <g id="M 460.605 310.318 L 629.517 310.318 Q 631.727 310.318 631.727 308.108 L 631.727 35.627 Q 631.727 33.417 629.517 33.417 L 460.605 33.417 Q 458.395 33.417 458.395 35.627 L 458.395 308.108 Q 458.395 310.318 460.605 310.318 z">
    <g id="patch_7">
     <path d="M 460.507677 311.165153 
L 629.385177 311.165153 
Q 631.585177 311.165153 631.585177 308.965153 
L 631.585177 35.760628 
Q 631.585177 33.560628 629.385177 33.560628 
L 460.507677 33.560628 
Q 458.307677 33.560628 458.307677 35.760628 
L 458.307677 308.965153 
Q 458.307677 311.165153 460.507677 311.165153 
z
" style="fill: #ffffff; opacity: 0.8; stroke: #cccccc; stroke-linejoin: miter"/>
    </g>
    <g transform="translate(0.000,-0.843)">
<g transform="translate(0,0.436)" id="line2d_30">
     <path d="M 462.707677 42.468909 
L 473.707677 42.468909 
L 484.707677 42.468909 
" style="fill: none; stroke: #1a6db6; stroke-linecap: square"/>
    </g>
    <g id="text_16">
     <text style="font-size: 11px; font-family: 'DejaVu Sans', 'Liberation Sans', sans-serif; text-anchor: start" x="493.507677" y="46.318909" transform="rotate(-0 493.507677 46.318909)">casing_pipe</text>
    </g>
    <g transform="translate(0,0.436)" id="line2d_31">
     <path d="M 462.707677 58.661184 
L 473.707677 58.661184 
L 484.707677 58.661184 
" style="fill: none; stroke: #dd7b2e; stroke-linecap: square"/>
    </g>
    <g id="text_17">
     <text style="font-size: 11px; font-family: 'DejaVu Sans', 'Liberation Sans', sans-serif; text-anchor: start" x="493.507677" y="62.511184" transform="rotate(-0 493.507677 62.511184)">wrench</text>
    </g>
    <g transform="translate(0,0.436)" id="line2d_32">
     <path d="M 462.707677 74.547522 
L 473.707677 74.547522 
L 484.707677 74.547522 
" style="fill: none; stroke: #2c9836; stroke-linecap: square"/>
    </g>
    <g id="text_18">
     <text style="font-size: 11px; font-family: 'DejaVu Sans', 'Liberation Sans', sans-serif; text-anchor: start" x="493.507677" y="78.397522" transform="rotate(-0 493.507677 78.397522)">elevator</text>
    </g>
    <g transform="translate(0,0.436)" id="line2d_33">
     <path d="M 462.707677 90.433859 
L 473.707677 90.433859 
L 484.707677 90.433859 
" style="fill: none; stroke: #cb2a2f; stroke-linecap: square"/>
    </g>
    <g id="text_19">
     <text style="font-size: 11px; font-family: 'DejaVu Sans', 'Liberation Sans', sans-serif; text-anchor: start" x="493.507677" y="94.283859" transform="rotate(-0 493.507677 94.283859)">person</text>
    </g>
    <g transform="translate(0,0.436)" id="line2d_34">
     <path d="M 462.707677 106.320197 
L 473.707677 106.320197 
L 484.707677 106.320197 
" style="fill: none; stroke: #9669b8; stroke-linecap: square"/>
    </g>
    <g id="text_20">
     <text style="font-size: 11px; font-family: 'DejaVu Sans', 'Liberation Sans', sans-serif; text-anchor: start" x="493.507677" y="110.170197" transform="rotate(-0 493.507677 110.170197)">ppe_jacket</text>
    </g>
    <g transform="translate(0,0.436)" id="line2d_35">
     <path d="M 462.707677 122.512472 
L 473.707677 122.512472 
L 484.707677 122.512472 
" style="fill: none; stroke: #955c52; stroke-linecap: square"/>
    </g>
    <g id="text_21">
     <text style="font-size: 11px; font-family: 'DejaVu Sans', 'Liberation Sans', sans-serif; text-anchor: start" x="493.507677" y="126.362472" transform="rotate(-0 493.507677 126.362472)">ppe_bib&amp;brace</text>
    </g>
    <g transform="translate(0,0.436)" id="line2d_36">
     <path d="M 462.707677 138.704747 
L 473.707677 138.704747 
L 484.707677 138.704747 
" style="fill: none; stroke: #d879b9; stroke-linecap: square"/>
    </g>
    <g id="text_22">
     <text style="font-size: 11px; font-family: 'DejaVu Sans', 'Liberation Sans', sans-serif; text-anchor: start" x="493.507677" y="142.554747" transform="rotate(-0 493.507677 142.554747)">ppe_helmet</text>
    </g>
    <g transform="translate(0,0.436)" id="line2d_37">
     <path d="M 462.707677 154.897022 
L 473.707677 154.897022 
L 484.707677 154.897022 
" style="fill: none; stroke: #7a7a7a; stroke-linecap: square"/>
    </g>
    <g id="text_23">
     <text style="font-size: 11px; font-family: 'DejaVu Sans', 'Liberation Sans', sans-serif; text-anchor: start" x="493.507677" y="158.747022" transform="rotate(-0 493.507677 158.747022)">ppe_boots</text>
    </g>
    <g transform="translate(0,0.436)" id="line2d_38">
     <path d="M 462.707677 171.089297 
L 473.707677 171.089297 
L 484.707677 171.089297 
" style="fill: none; stroke: #bcbe2c; stroke-linecap: square"/>
    </g>
    <g id="text_24">
     <text style="font-size: 11px; font-family: 'DejaVu Sans', 'Liberation Sans', sans-serif; text-anchor: start" x="493.507677" y="174.939297" transform="rotate(-0 493.507677 174.939297)">ppe_glasses</text>
    </g>
    <g transform="translate(0,0.436)" id="line2d_39">
     <path d="M 462.707677 187.281572 
L 473.707677 187.281572 
L 484.707677 187.281572 
" style="fill: none; stroke: #33a6c4; stroke-linecap: square"/>
    </g>
    <g id="text_25">
     <text style="font-size: 11px; font-family: 'DejaVu Sans', 'Liberation Sans', sans-serif; text-anchor: start" x="493.507677" y="191.131572" transform="rotate(-0 493.507677 191.131572)">ppe_gloves</text>
    </g>
    <g transform="translate(0,0.436)" id="line2d_40">
     <path d="M 462.707677 203.473847 
L 473.707677 203.473847 
L 484.707677 203.473847 
" style="fill: none; stroke: #1a6db6; stroke-linecap: square"/>
    </g>
    <g id="text_26">
     <text style="font-size: 11px; font-family: 'DejaVu Sans', 'Liberation Sans', sans-serif; text-anchor: start" x="493.507677" y="207.323847" transform="rotate(-0 493.507677 207.323847)">helmet_negative</text>
    </g>
    <g transform="translate(0,0.436)" id="line2d_41">
     <path d="M 462.707677 219.666122 
L 473.707677 219.666122 
L 484.707677 219.666122 
" style="fill: none; stroke: #dd7b2e; stroke-linecap: square"/>
    </g>
    <g id="text_27">
     <text style="font-size: 11px; font-family: 'DejaVu Sans', 'Liberation Sans', sans-serif; text-anchor: start" x="493.507677" y="223.516122" transform="rotate(-0 493.507677 223.516122)">gloves_negative</text>
    </g>
    <g transform="translate(0,0.436)" id="line2d_42">
     <path d="M 462.707677 235.858397 
L 473.707677 235.858397 
L 484.707677 235.858397 
" style="fill: none; stroke: #2c9836; stroke-linecap: square"/>
    </g>
    <g id="text_28">
     <text style="font-size: 11px; font-family: 'DejaVu Sans', 'Liberation Sans', sans-serif; text-anchor: start" x="493.507677" y="239.708397" transform="rotate(-0 493.507677 239.708397)">bib&amp;brace_negative</text>
    </g>
    <g transform="translate(0,0.436)" id="line2d_43">
     <path d="M 462.707677 252.050672 
L 473.707677 252.050672 
L 484.707677 252.050672 
" style="fill: none; stroke: #cb2a2f; stroke-linecap: square"/>
    </g>
    <g id="text_29">
     <text style="font-size: 11px; font-family: 'DejaVu Sans', 'Liberation Sans', sans-serif; text-anchor: start" x="493.507677" y="255.900672" transform="rotate(-0 493.507677 255.900672)">glasses_negative</text>
    </g>
    <g transform="translate(0,0.436)" id="line2d_44">
     <path d="M 462.707677 268.242947 
L 473.707677 268.242947 
L 484.707677 268.242947 
" style="fill: none; stroke: #9669b8; stroke-linecap: square"/>
    </g>
    <g id="text_30">
     <text style="font-size: 11px; font-family: 'DejaVu Sans', 'Liberation Sans', sans-serif; text-anchor: start" x="493.507677" y="272.092947" transform="rotate(-0 493.507677 272.092947)">jacket_negative</text>
    </g>
    <g transform="translate(0,0.436)" id="line2d_45">
     <path d="M 462.707677 284.435222 
L 473.707677 284.435222 
L 484.707677 284.435222 
" style="fill: none; stroke: #955c52; stroke-linecap: square"/>
    </g>
    <g id="text_31">
     <text style="font-size: 11px; font-family: 'DejaVu Sans', 'Liberation Sans', sans-serif; text-anchor: start" x="493.507677" y="288.285222" transform="rotate(-0 493.507677 288.285222)">boots_negative</text>
    </g>
    <g transform="translate(0,0.436)" id="line2d_46">
     <path d="M 462.707677 300.627497 
L 473.707677 300.627497 
L 484.707677 300.627497 
" style="fill: none; stroke: #3c4e9e; stroke-width: 3; stroke-linecap: square"/>
    </g>
    <g id="text_32">
     <text style="font-size: 11px; font-family: 'DejaVu Sans', 'Liberation Sans', sans-serif; text-anchor: start" x="493.507677" y="304.477497" transform="rotate(-0 493.507677 304.477497)">all classes 0.77 at 0.268</text>
    </g>
   </g>
</g>
  </g>
 </g>
 <defs>
  <clipPath id="p59e34a2f71">
   <rect x="50.948879" y="28.060628" width="386.402691" height="360.351928"/>
  </clipPath>
 </defs>
</svg>

</body></html>
